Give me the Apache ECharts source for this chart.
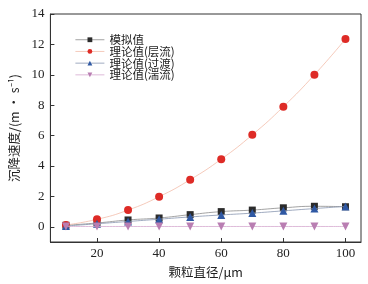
<!DOCTYPE html>
<html>
<head>
<meta charset="utf-8">
<script src="https://cdn.jsdelivr.net/npm/echarts@6/dist/echarts.min.js"></script>
<style>
  html, body { margin: 0; padding: 0; background: #fff; }
  #chart { width: 368px; height: 284px; }
</style>
</head>
<body>
<div id="chart"></div>
<script>
// particle diameter (µm)
const diameters = [10, 20, 30, 40, 50, 60, 70, 80, 90, 100];
// settling velocity (m/s)
const simulated = [0.1, 0.25, 0.45, 0.58, 0.8, 1.0, 1.1, 1.25, 1.35, 1.32];
const laminar = [0.12, 0.49, 1.1, 1.98, 3.1, 4.45, 6.05, 7.9, 10.0, 12.35];
const transition = [0.05, 0.2, 0.35, 0.5, 0.65, 0.78, 0.9, 1.05, 1.2, 1.34];
const turbulent = [0.02, 0.02, 0.02, 0.02, 0.02, 0.02, 0.02, 0.02, 0.02, 0.02];
const xTicks = [20, 40, 60, 80, 100];
const yTicks = [0, 2, 4, 6, 8, 10, 12, 14];
const seriesNames = ["模拟值", "理论值(层流)", "理论值(过渡)", "理论值(湍流)"];

const serif = "'Liberation Serif', 'Noto Sans CJK SC', serif";
const cjk = "'Noto Sans CJK SC', 'Liberation Serif', serif";

function pairs(vals) {
  return diameters.map((d, i) => [d, vals[i]]);
}

const chart = echarts.init(document.getElementById("chart"), null, { renderer: "canvas" });

const styles = [
  { symbol: "rect", size: 7, color: "#2b2b2b", line: "#8c8c8c" },
  { symbol: "circle", size: 8, color: "#de2b26", line: "#f3bca9" },
  { symbol: "triangle", size: 8, color: "#2f58a3", line: "#8896b0" },
  { symbol: "path://M0,0 L10,0 L5,9 Z", size: 8, color: "#b97eb2", line: "#d6a9cf" },
];
const datasets = [simulated, laminar, transition, turbulent];

// one legend per row so the rows can sit as tightly as in the figure
const legends = seriesNames.map((name, i) => ({
  orient: "vertical",
  left: 75,
  top: 34 + i * 11.7,
  padding: 0,
  itemWidth: 29,
  itemHeight: 6,
  lineStyle: { width: 0.8 },
  textStyle: { fontFamily: cjk, fontSize: 11.5, color: "#222" },
  data: [name],
}));

chart.setOption({
  animation: false,
  grid: { left: 46, right: 7, top: 14, bottom: 42, show: true, borderColor: "#333", borderWidth: 1 },
  legend: legends,
  xAxis: {
    type: "value",
    min: 5,
    max: 105,
    name: "颗粒直径/μm",
    nameLocation: "middle",
    nameGap: 24,
    nameTextStyle: { fontFamily: cjk, fontSize: 12.5, color: "#222" },
    axisLine: { onZero: false, lineStyle: { color: "#333" } },
    axisTick: { inside: true, length: 4, customValues: xTicks, lineStyle: { color: "#333" } },
    axisLabel: { customValues: xTicks, fontFamily: serif, fontSize: 13, color: "#222", margin: 5 },
    splitLine: { show: false },
  },
  yAxis: {
    type: "value",
    min: -1,
    max: 14,
    name: "沉降速度/(m • s\u207B\u00B9)",
    nameLocation: "middle",
    nameGap: 29,
    nameTextStyle: { fontFamily: cjk, fontSize: 12.5, color: "#222" },
    axisLine: { onZero: false, lineStyle: { color: "#333" } },
    axisTick: { inside: true, length: 4, customValues: yTicks, lineStyle: { color: "#333" } },
    axisLabel: { customValues: yTicks, fontFamily: serif, fontSize: 13, color: "#222", margin: 6 },
    splitLine: { show: false },
  },
  series: seriesNames.map((name, i) => ({
    name,
    type: "line",
    data: pairs(datasets[i]),
    smooth: true,
    symbol: styles[i].symbol,
    symbolSize: styles[i].size,
    itemStyle: { color: styles[i].color },
    lineStyle: { color: styles[i].line, width: 0.8 },
    z: 2 + i,
  })),
});
</script>
</body>
</html>
